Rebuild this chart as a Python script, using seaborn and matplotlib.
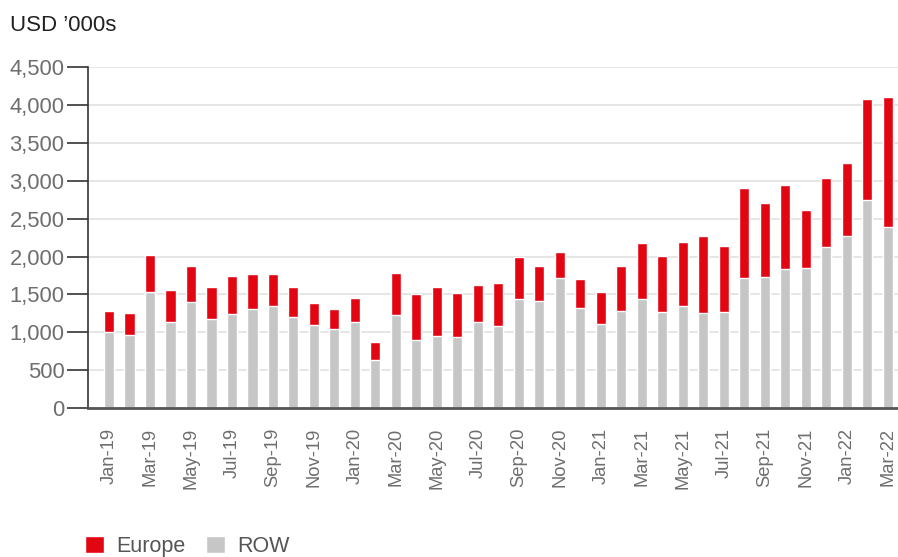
import matplotlib
matplotlib.use("Agg")
import matplotlib.pyplot as plt
from matplotlib.patches import Patch
import seaborn as sns
import pandas as pd

months = ["Jan-19", "Feb-19", "Mar-19", "Apr-19", "May-19", "Jun-19", "Jul-19", "Aug-19",
          "Sep-19", "Oct-19", "Nov-19", "Dec-19", "Jan-20", "Feb-20", "Mar-20", "Apr-20",
          "May-20", "Jun-20", "Jul-20", "Aug-20", "Sep-20", "Oct-20", "Nov-20", "Dec-20",
          "Jan-21", "Feb-21", "Mar-21", "Apr-21", "May-21", "Jun-21", "Jul-21", "Aug-21",
          "Sep-21", "Oct-21", "Nov-21", "Dec-21", "Jan-22", "Feb-22", "Mar-22"]
row_vals = [1005, 966, 1532, 1137, 1400, 1177, 1242, 1308, 1348, 1203, 1098, 1045, 1137, 637,
            1229, 900, 953, 939, 1137, 1084, 1440, 1414, 1716, 1321, 1111, 1282, 1440, 1269,
            1348, 1256, 1269, 1716, 1730, 1835, 1848, 2125, 2270, 2744, 2388]
europe_vals = [277, 290, 487, 421, 475, 421, 501, 461, 421, 395, 289, 263, 316, 237, 553, 606,
               645, 580, 487, 567, 553, 461, 343, 382, 421, 593, 737, 737, 843, 1014, 869, 1186,
               974, 1106, 764, 908, 961, 1330, 1712]
y_ticks = [0, 500, 1000, 1500, 2000, 2500, 3000, 3500, 4000, 4500]

RED = "#e20613"
GREY = "#c6c6c6"
TXT = "#6e6e6e"

df = pd.DataFrame({"month": months, "ROW": row_vals, "Europe": europe_vals})
df["Total"] = df["ROW"] + df["Europe"]

sns.set_style("white")
plt.rcParams["font.family"] = ["Liberation Sans", "DejaVu Sans"]

fig = plt.figure(figsize=(8.98, 5.57), dpi=100)
ax = fig.add_axes([0.098, 0.267, 0.902, 0.613])

sns.barplot(data=df, x="month", y="Total", order=months, color=RED, width=0.5,
            saturation=1, ax=ax, zorder=3)
sns.barplot(data=df, x="month", y="ROW", order=months, color=GREY, width=0.5,
            saturation=1, ax=ax, zorder=4)

ax.set_ylim(0, 4500)
ax.set_xlim(-1.02, 38.5)
ax.set_yticks(y_ticks)
ax.set_yticklabels([f"{v:,}" for v in y_ticks], fontsize=15.8, color=TXT)
ax.set_xticks(range(0, len(months), 2))
ax.set_xticklabels(months[::2], rotation=90, fontsize=13.2, color=TXT)
ax.tick_params(axis="x", length=0, pad=14)
ax.tick_params(axis="y", length=15, width=1.2, color="#333333", pad=2, left=True)
ax.set_xlabel("")
ax.set_ylabel("")
ax.yaxis.grid(True, color="#e2e2e2", linewidth=1.2, zorder=0)
ax.set_axisbelow(True)
for s in ["top", "right"]:
    ax.spines[s].set_visible(False)
ax.spines["left"].set_color("#333333")
ax.spines["left"].set_linewidth(1.2)
ax.spines["bottom"].set_color("#555555")
ax.spines["bottom"].set_linewidth(2)
for s in ax.spines.values():
    s.set_zorder(10)

fig.text(0.011, 0.955, "USD \u2019000s", fontsize=16, color="#222222", va="center")

handles = [Patch(facecolor=RED, label="Europe"), Patch(facecolor=GREY, label="ROW")]
fig.legend(handles=handles, loc="center left", bbox_to_anchor=(0.095, 0.019), ncol=2,
           frameon=False, fontsize=15.5, labelcolor="#555555", handlelength=0.85,
           handleheight=0.85, handletextpad=0.6, columnspacing=0.95, borderpad=0,
           borderaxespad=0)

fig.savefig("out.png", dpi=100)
